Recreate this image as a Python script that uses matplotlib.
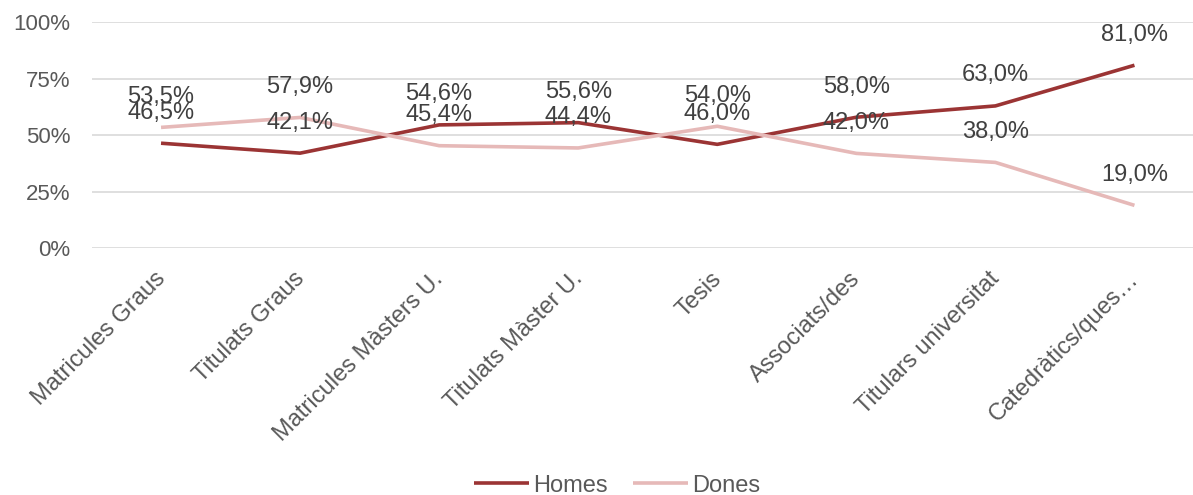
import matplotlib.pyplot as plt
import matplotlib.transforms as mtransforms
from matplotlib.ticker import FuncFormatter

plt.rcParams['font.family'] = ['Liberation Sans', 'DejaVu Sans']

categories = ["Matricules Graus", "Titulats Graus", "Matricules Màsters U.",
              "Titulats Màster U.", "Tesis", "Associats/des",
              "Titulars universitat", "Catedràtics/ques…"]
homes = [46.5, 42.1, 54.6, 55.6, 46.0, 58.0, 63.0, 81.0]
dones = [53.5, 57.9, 45.4, 44.4, 54.0, 42.0, 38.0, 19.0]

c_homes = '#9b3434'
c_dones = '#e6b9b8'

fig = plt.figure(figsize=(11.93, 4.95), dpi=100)
# plot area as in the original (slightly cut on the right)
ax = fig.add_axes([91.5 / 1193, 1 - 248.3 / 495, 1 - 91.5 / 1193, 226 / 495])

x = list(range(len(categories)))
ax.plot(x, homes, color=c_homes, lw=2.6, label='Homes', solid_capstyle='butt')
ax.plot(x, dones, color=c_dones, lw=2.6, label='Dones', solid_capstyle='butt')

for xi, v in zip(x, homes):
    ax.annotate(f"{v:.1f}%".replace('.', ','), (xi, v), xytext=(0, 22),
                textcoords='offset points', ha='center', va='center',
                fontsize=17, color='#404040')
for xi, v in zip(x, dones):
    ax.annotate(f"{v:.1f}%".replace('.', ','), (xi, v), xytext=(0, 22),
                textcoords='offset points', ha='center', va='center',
                fontsize=17, color='#404040')

ax.set_ylim(0, 100)
ax.set_xlim(-0.5, 7.5 - 11 / 139.2)
ax.set_yticks([0, 25, 50, 75, 100])
ax.yaxis.set_major_formatter(FuncFormatter(lambda v, p: f"{v:.0f}%"))
ax.grid(axis='y', color='#d9d9d9', lw=1.2)
ax.set_axisbelow(True)
for s in ax.spines.values():
    s.set_visible(False)
ax.tick_params(axis='both', length=0, colors='#595959')
ax.tick_params(axis='y', labelsize=16, pad=15)
ax.set_xticks(x)
ax.set_xticklabels(categories, rotation=45, ha='right', rotation_mode='anchor',
                   fontsize=17, color='#595959')
ax.tick_params(axis='x', pad=14)
shift = mtransforms.ScaledTranslation(-0.07, 0, fig.dpi_scale_trans)
for lbl in ax.get_xticklabels():
    lbl.set_transform(lbl.get_transform() + shift)

fig.legend(loc='lower center', bbox_to_anchor=(0.5176, -0.046), ncol=2, frameon=False,
           fontsize=17, labelcolor='#595959', handlelength=2.3,
           handletextpad=0.21, columnspacing=1.06)

fig.savefig('out.png', dpi=100)
